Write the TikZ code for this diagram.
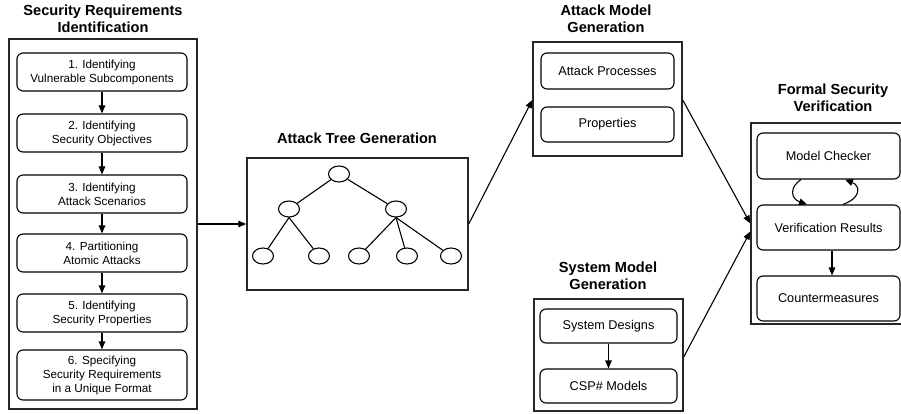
\documentclass[tikz,border=0pt]{standalone}
\usepackage{fontspec}
\setmainfont{Liberation Sans}
\usetikzlibrary{arrows.meta,shapes.geometric,calc}

\tikzset{
  outerbox/.style={draw=black!85, line width=1.4pt, inner sep=0pt},
  stepbox/.style={draw, rounded corners=6pt, inner sep=0pt, align=center,
    font=\fontsize{11.7}{14}\selectfont},
  modelbox/.style={stepbox, font=\fontsize{12.7}{15}\selectfont},
  heading/.style={align=center, inner sep=0pt,
    font=\bfseries\fontsize{14.6}{17}\selectfont},
  treenode/.style={ellipse, draw, minimum width=21pt, minimum height=16pt, inner sep=0pt},
  arr/.style={-{Triangle[length=8pt,width=6.5pt]}}
}

\begin{document}
\begin{tikzpicture}[x=1pt, y=-1pt, line width=1.1pt]
\begin{scope}
\clip (0,0) rectangle (901,414);

% Security requirements identification
\node[heading] at (103,18.5) {Security Requirements\\Identification};
\node[outerbox, minimum width=188pt, minimum height=370pt] (sr) at (103,224) {};
\node[stepbox, minimum width=170pt, minimum height=38pt] (s1) at (102,72)
  {1. Identifying\\Vulnerable Subcomponents};
\node[stepbox, minimum width=170pt, minimum height=38pt] (s2) at (102,133)
  {2. Identifying\\Security Objectives};
\node[stepbox, minimum width=170pt, minimum height=38pt] (s3) at (102,194)
  {3. Identifying\\Attack Scenarios};
\node[stepbox, minimum width=170pt, minimum height=38pt] (s4) at (102,253)
  {4. Partitioning\\Atomic Attacks};
\node[stepbox, minimum width=170pt, minimum height=38pt] (s5) at (102,313)
  {5. Identifying\\Security Properties};
\node[stepbox, minimum width=170pt, minimum height=50pt] (s6) at (102,375)
  {6. Specifying\\Security Requirements\\in a Unique Format};
\draw[arr] (s1) -- (s2);
\draw[arr] (s2) -- (s3);
\draw[arr] (s3) -- (s4);
\draw[arr] (s4) -- (s5);
\draw[arr] (s5) -- (s6);

% Attack tree generation
\node[heading] at (357,138) {Attack Tree Generation};
\node[outerbox, minimum width=221pt, minimum height=132pt] (at) at (357.5,224) {};
\node[treenode] (r)  at (339,174) {};
\node[treenode] (m1) at (289,209) {};
\node[treenode] (m2) at (396,209) {};
\node[treenode] (l1) at (263,256) {};
\node[treenode] (l2) at (319,256) {};
\node[treenode] (l3) at (359,256) {};
\node[treenode] (l4) at (407,256) {};
\node[treenode] (l5) at (451,256) {};
\draw (r) -- (m1);
\draw (r) -- (m2);
\draw (m1.south) -- (l1);
\draw (m1.south) -- (l2);
\draw (m2.south) -- (l3);
\draw (m2.south) -- (l4);
\draw (m2.south) -- (l5);

% Attack model generation
\node[heading] at (606,18.5) {Attack Model\\Generation};
\node[outerbox, minimum width=149pt, minimum height=114pt] (am) at (607.5,99) {};
\node[modelbox, minimum width=133pt, minimum height=36pt] (a1) at (607.5,71) {Attack Processes};
\node[modelbox, minimum width=133pt, minimum height=35pt] (a2) at (607.5,124.5) {Properties};

% System model generation
\node[heading] at (608,276) {System Model\\Generation};
\node[outerbox, minimum width=149pt, minimum height=112pt] (sm) at (608.5,355) {};
\node[modelbox, minimum width=137pt, minimum height=34pt] (b1) at (608.5,326) {System Designs};
\node[modelbox, minimum width=137pt, minimum height=34pt] (b2) at (608.5,386) {CSP\# Models};
\draw[arr] (b1) -- (b2);

% Formal security verification (runs past the right edge)
\node[heading] at (833,97.5) {Formal Security\\Verification};
\node[outerbox, minimum width=158pt, minimum height=201pt] (fs) at (830,223.5) {};
\node[modelbox, minimum width=143pt, minimum height=46pt] (mc) at (828.5,156) {Model Checker};
\node[modelbox, minimum width=143pt, minimum height=45pt] (vr) at (828.5,227.5) {Verification Results};
\node[modelbox, minimum width=143pt, minimum height=45pt] (cm) at (828.5,298.5) {Countermeasures};
\draw[arr] ([xshift=3.5pt]vr.south) -- ([xshift=3.5pt]cm.north);
\draw[arr] ([xshift=-27.5pt]mc.south) .. controls +(-11,7) and +(-17,-6) .. ([xshift=-21.5pt]vr.north);
\draw[arr] ([xshift=14.5pt]vr.north) .. controls +(19,-7) and +(15,6) .. ([xshift=16.5pt]mc.south);

% Flow between stages
\draw[arr] (sr.east) -- (at.west);
\draw[arr] (at.east) -- ([yshift=-1pt]am.west);
\draw[arr] ([yshift=-1pt]am.east) -- (fs.west);
\draw[arr] ([yshift=-2pt]sm.east) -- ([yshift=-8pt]fs.west);
\end{scope}
\pgfresetboundingbox
\useasboundingbox (0,0) rectangle (901,414);
\end{tikzpicture}
\end{document}
